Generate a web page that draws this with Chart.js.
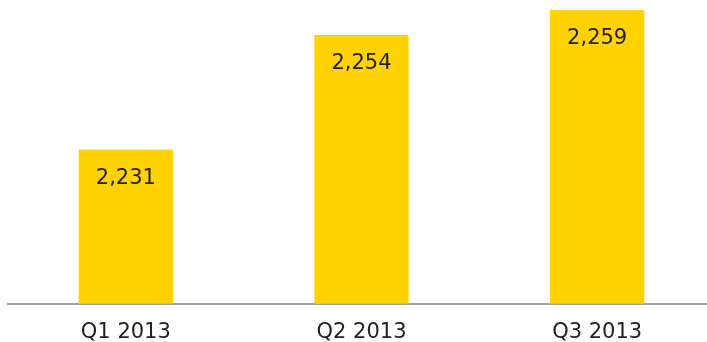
<!DOCTYPE html>
<html>
<head>
<meta charset="utf-8">
<script src="https://cdn.jsdelivr.net/npm/chart.js@4"></script>
<style>
    body { margin: 0; background: #fff; overflow: hidden; }
    #wrap { width: 707px; height: 342px; overflow: hidden; }
</style>
</head>
<body>
<div id="wrap">
    <canvas id="quarterChart" width="715" height="361"></canvas>
</div>
<script>
// Quarterly figures
const quarters = ['Q1 2013', 'Q2 2013', 'Q3 2013'];
const values = [2231, 2254, 2259];

const labelFont = '"DejaVu Sans", Verdana, sans-serif';

// Writes the value inside the top of each bar
const valueLabels = {
    id: 'valueLabels',
    afterDatasetsDraw(chart) {
        const ctx = chart.ctx;
        const meta = chart.getDatasetMeta(0);
        ctx.save();
        ctx.font = '21px ' + labelFont;
        ctx.fillStyle = '#222222';
        ctx.textAlign = 'center';
        ctx.textBaseline = 'middle';
        meta.data.forEach((bar, i) => {
            ctx.fillText(values[i].toLocaleString('en-US'), bar.x, bar.y + 29);
        });
        ctx.restore();
    }
};

const ctx = document.getElementById('quarterChart').getContext('2d');

new Chart(ctx, {
    type: 'bar',
    data: {
        labels: quarters,
        datasets: [{
            data: values,
            backgroundColor: '#ffd200',
            borderWidth: 0,
            barPercentage: 0.4,
            categoryPercentage: 1.0
        }]
    },
    options: {
        responsive: false,
        animation: false,
        layout: {
            padding: { left: 8, top: 5, right: 0, bottom: 0 }
        },
        plugins: {
            legend: { display: false },
            tooltip: { enabled: false }
        },
        scales: {
            x: {
                grid: { display: false, drawTicks: false },
                border: { display: true, color: '#a0a0a0', width: 2 },
                ticks: {
                    color: '#222222',
                    padding: 16,
                    font: { family: labelFont, size: 21 }
                }
            },
            y: {
                display: false,
                min: 2200,
                max: 2260
            }
        }
    },
    plugins: [valueLabels]
});
</script>
</body>
</html>
